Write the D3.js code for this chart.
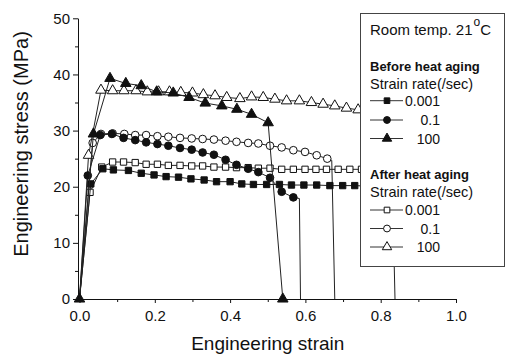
<!DOCTYPE html>
<html>
<head>
<meta charset="utf-8">
<script src="https://cdn.jsdelivr.net/npm/d3@7"></script>
<style>
  html, body { margin: 0; padding: 0; background: #fff; }
</style>
</head>
<body>
<div id="chart"></div>
<script>
// ─────────────────────────────────────────
// Engineering stress-strain curves
// before / after heat aging, 3 strain rates
// ─────────────────────────────────────────

// [strain, stress] points carrying a marker
const before001 = [[0.030,20.5],[0.062,23.2],[0.090,23.0],[0.130,22.9],[0.164,22.4],[0.198,22.1],[0.230,21.8],[0.263,21.7],[0.296,21.4],[0.331,21.2],[0.364,20.9],[0.400,20.9],[0.431,20.5],[0.462,20.4],[0.497,20.4],[0.531,20.4],[0.563,20.3],[0.596,20.3],[0.630,20.3],[0.665,20.2],[0.699,20.2],[0.731,20.2],[0.765,20.1]];
const before01  = [[0.022,22.0],[0.055,29.2],[0.086,29.4],[0.117,28.7],[0.148,28.3],[0.177,27.9],[0.207,27.6],[0.236,27.3],[0.267,26.9],[0.298,26.6],[0.327,26.1],[0.357,25.7],[0.388,24.8],[0.417,23.9],[0.448,23.2],[0.475,22.6],[0.506,21.6],[0.537,19.1],[0.568,18.1]];
const before100 = [[0,0],[0.037,29.4],[0.081,39.3],[0.123,38.4],[0.164,38.0],[0.205,36.9],[0.249,36.7],[0.291,35.9],[0.334,34.9],[0.378,34.4],[0.418,33.8],[0.457,32.9],[0.501,31.4],[0.540,0]];
const after001  = [[0.028,19.0],[0.059,23.5],[0.088,24.4],[0.117,24.4],[0.148,24.3],[0.177,24.0],[0.207,24.0],[0.236,23.8],[0.267,23.8],[0.298,23.7],[0.327,23.7],[0.357,23.5],[0.388,23.5],[0.417,23.4],[0.448,23.4],[0.475,23.3],[0.506,23.3],[0.537,23.1],[0.568,23.1],[0.599,23.1],[0.628,23.1],[0.656,23.1],[0.687,23.1],[0.718,23.1],[0.749,23.1],[0.780,23.0],[0.810,23.0]];
const after01   = [[0.035,27.8],[0.057,29.4],[0.088,29.5],[0.119,29.4],[0.148,29.2],[0.177,29.2],[0.207,29.0],[0.236,28.9],[0.267,28.7],[0.298,28.6],[0.327,28.5],[0.357,28.4],[0.388,28.2],[0.417,28.0],[0.448,27.8],[0.475,27.7],[0.506,27.3],[0.537,27.0],[0.568,26.5],[0.599,26.2],[0.630,25.6],[0.658,25.0]];
const after100  = [[0.024,25.6],[0.057,37.2],[0.088,37.1],[0.118,37.1],[0.150,37.1],[0.180,36.9],[0.210,36.9],[0.239,36.9],[0.269,36.8],[0.300,36.7],[0.329,36.4],[0.360,36.2],[0.391,35.9],[0.426,35.7],[0.457,36.0],[0.488,35.9],[0.519,35.6],[0.550,35.3],[0.584,35.3],[0.616,35.0],[0.647,34.7],[0.678,34.4],[0.709,34.0],[0.740,33.7],[0.770,33.4]];

// unmarked fracture tails
const before01Tail = [[0.584,17.9],[0.587,0]];
const after001Tail = [[0.830,23.0],[0.838,0]];
const after01Tail  = [[0.670,24.7],[0.678,0]];

const origin = [0, 0];
const xTicks = [0, 0.2, 0.4, 0.6, 0.8, 1.0];
const xMinor = [0.1, 0.3, 0.5, 0.7, 0.9];
const yTicks = [0, 10, 20, 30, 40, 50];
const yMinor = [5, 15, 25, 35, 45];
const rateLabels = ['0.001', '0.1', '100'];

const series = [
  { key: 'a001', group: 'after',  label: '0.001', shape: d3.symbolSquare,   filled: false, marks: after001,  tail: after001Tail },
  { key: 'a01',  group: 'after',  label: '0.1',   shape: d3.symbolCircle,   filled: false, marks: after01,   tail: after01Tail },
  { key: 'a100', group: 'after',  label: '100',   shape: d3.symbolTriangle, filled: false, marks: after100,  tail: [] },
  { key: 'b001', group: 'before', label: '0.001', shape: d3.symbolSquare,   filled: true,  marks: before001, tail: [] },
  { key: 'b01',  group: 'before', label: '0.1',   shape: d3.symbolCircle,   filled: true,  marks: before01,  tail: before01Tail },
  { key: 'b100', group: 'before', label: '100',   shape: d3.symbolTriangle, filled: true,  marks: before100, tail: [] }
];

const symbolSize = s => s === d3.symbolTriangle ? 48 : s === d3.symbolCircle ? 46 : 40;

const width = 507, height = 356;
const svg = d3.select('#chart')
  .append('svg')
  .attr('width', width)
  .attr('height', height)
  .style('font-family', '"Liberation Sans", Arial, sans-serif')
  .style('background', '#fff');

const x = d3.scaleLinear().domain([0, 1]).range([79.5, 456]);
const y = d3.scaleLinear().domain([0, 50]).range([299, 18.3]);

// ── axes
const xAxis = svg.append('g').attr('transform', `translate(0,${y(0)})`);
xAxis.call(d3.axisBottom(x).tickValues(xMinor).tickSize(3).tickSizeOuter(0).tickFormat(''));
xAxis.append('g').call(d3.axisBottom(x).tickValues(xTicks).tickSize(4).tickSizeOuter(0)
  .tickPadding(7).tickFormat(d3.format('.1f')));

const yAxis = svg.append('g').attr('transform', `translate(${x(0) - 1.5},0)`);
yAxis.call(d3.axisLeft(y).tickValues(yMinor).tickSize(3).tickSizeOuter(0).tickFormat(''));
yAxis.append('g').call(d3.axisLeft(y).tickValues(yTicks).tickSize(5).tickSizeOuter(0)
  .tickPadding(3).tickFormat(d3.format('d')));

svg.selectAll('.domain').attr('stroke', '#111');
svg.selectAll('.tick line').attr('stroke', '#111');
svg.selectAll('.tick text').attr('font-size', '15px').attr('fill', '#111')
  .attr('font-family', '"Liberation Sans", Arial, sans-serif');

// 轴标题
svg.append('text')
  .attr('x', (x(0) + x(1)) / 2)
  .attr('y', 350)
  .attr('text-anchor', 'middle')
  .attr('font-size', '19px')
  .attr('fill', '#111')
  .text('Engineering strain');

svg.append('text')
  .attr('transform', 'translate(28,144) rotate(-90)')
  .attr('text-anchor', 'middle')
  .attr('font-size', '20px')
  .attr('fill', '#111')
  .text('Engineering stress (MPa)');

// ── curves
const line = d3.line().x(d => x(d[0])).y(d => y(d[1]));

series.forEach(s => {
  const pts = (s.marks[0][0] === 0 ? [] : [origin]).concat(s.marks, s.tail);
  svg.append('path')
    .datum(pts)
    .attr('d', line)
    .attr('fill', 'none')
    .attr('stroke', '#222')
    .attr('stroke-width', 1);

  svg.selectAll(`.m-${s.key}`)
    .data(s.marks)
    .enter()
    .append('path')
    .attr('class', `m-${s.key}`)
    .attr('transform', d => `translate(${x(d[0])},${y(d[1])})`)
    .attr('d', d3.symbol().type(s.shape).size(symbolSize(s.shape)))
    .attr('fill', s.filled ? '#111' : '#fff')
    .attr('stroke', '#111')
    .attr('stroke-width', 1);
});

// ── legend
const lg = svg.append('g');
lg.append('rect')
  .attr('x', 360.5).attr('y', 13.5)
  .attr('width', 144).attr('height', 253)
  .attr('fill', '#fff')
  .attr('stroke', '#444')
  .attr('stroke-width', 1);

const title = lg.append('text')
  .attr('x', 370).attr('y', 35)
  .attr('font-size', '15px').attr('fill', '#111');
title.append('tspan').text('Room temp. 21');
title.append('tspan').attr('font-size', '12px').attr('dy', -9).attr('dx', 1).text('o');
title.append('tspan').attr('dy', 9).text('C');

const groups = [
  { group: 'before', head: 'Before heat aging', headY: 71, subY: 88.5, rows: [100.7, 120, 138.5] },
  { group: 'after',  head: 'After heat aging',  headY: 179, subY: 197, rows: [210, 228.5, 247] }
];

groups.forEach(g => {
  lg.append('text').attr('x', 370).attr('y', g.headY)
    .attr('font-size', '13px').attr('font-weight', 'bold').attr('fill', '#111')
    .text(g.head);
  lg.append('text').attr('x', 370).attr('y', g.subY)
    .attr('font-size', '14.5px').attr('fill', '#111')
    .text('Strain rate(/sec)');

  series.filter(s => s.group === g.group)
    .sort((a, b) => rateLabels.indexOf(a.label) - rateLabels.indexOf(b.label))
    .forEach((s, i) => {
      const ry = g.rows[i];
      lg.append('line')
        .attr('x1', 370).attr('x2', 403)
        .attr('y1', ry).attr('y2', ry)
        .attr('stroke', '#333').attr('stroke-width', 1);
      lg.append('path')
        .attr('transform', `translate(387,${ry})`)
        .attr('d', d3.symbol().type(s.shape).size(symbolSize(s.shape) * 0.8))
        .attr('fill', s.filled ? '#111' : '#fff')
        .attr('stroke', '#111');
      lg.append('text')
        .attr('x', 440).attr('y', ry + 5)
        .attr('text-anchor', 'end')
        .attr('font-size', '14px').attr('fill', '#111')
        .text(s.label);
    });
});
</script>
</body>
</html>
